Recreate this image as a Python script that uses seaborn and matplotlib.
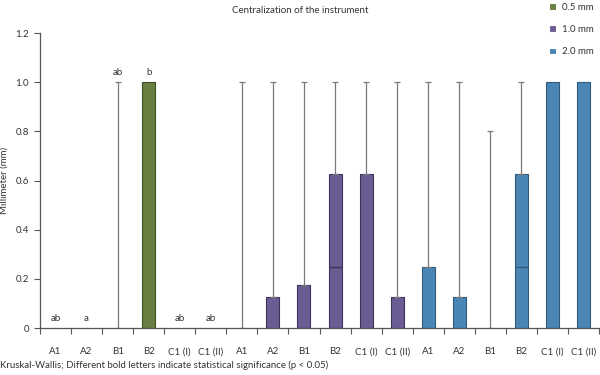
import matplotlib
matplotlib.use("Agg")
import matplotlib.pyplot as plt
import seaborn as sns
import pandas as pd
import numpy as np

# ---- data ----
groups = ["0.5 mm"] * 6 + ["1.0 mm"] * 6 + ["2.0 mm"] * 6
labels = ["A1", "A2", "B1", "B2", "C1 (I)", "C1 (II)"] * 3
q3 = [0, 0, 0, 1.0, 0, 0,
      0, 0.125, 0.175, 0.625, 0.625, 0.125,
      0.25, 0.125, 0, 0.625, 1.0, 1.0]
maxv = [0, 0, 1.0, 1.0, 0, 0,
        1.0, 1.0, 1.0, 1.0, 1.0, 1.0,
        1.0, 1.0, 0.8, 1.0, 1.0, 1.0]
median = [0, 0, 0, 1.0, 0, 0,
          0, 0, 0, 0.25, 0, 0,
          0, 0, 0, 0.25, 1.0, 1.0]
letters = ["ab", "a", "ab", "b", "ab", "ab"] + [""] * 12
yticks = [0, 0.2, 0.4, 0.6, 0.8, 1.0, 1.2]
yticklabels = ["0", "0.2", "0.4", "0.6", "0.8", "1.0", "1.2"]

palette = {"0.5 mm": "#687f42", "1.0 mm": "#6c5c94", "2.0 mm": "#4a86b5"}
edges = {"0.5 mm": "#3f4f26", "1.0 mm": "#3e3258", "2.0 mm": "#2f5a7c"}

keys = [f"{g}|{l}" for g, l in zip(groups, labels)]
df = pd.DataFrame({"key": keys, "group": groups, "label": labels,
                   "q3": q3, "max": maxv, "median": median})

sns.set_theme(style="white")
plt.rcParams["font.family"] = ["Lato", "DejaVu Sans"]
plt.rcParams["font.size"] = 7

fig = plt.figure(figsize=(6, 3.75), dpi=100)
ax = fig.add_axes([40 / 600, 1 - 328 / 375, 559 / 600, (328 - 33) / 375])

sns.barplot(data=df, x="key", y="q3", hue="group", order=keys,
            palette=palette, dodge=False, width=0.42, ax=ax,
            linewidth=0.8, saturation=1, errorbar=None)

# edge colors
for patch in ax.patches:
    fc = patch.get_facecolor()
    for g, c in palette.items():
        if np.allclose(fc[:3], matplotlib.colors.to_rgb(c), atol=0.02):
            patch.set_edgecolor(edges[g])
    if patch.get_height() == 0:
        patch.set_linewidth(0)

# whiskers, medians, letters
for i, row in df.iterrows():
    if row["max"] > row["q3"]:
        ax.errorbar(i, row["q3"], yerr=[[0], [row["max"] - row["q3"]]],
                    fmt="none", ecolor="#7a7a7a", elinewidth=0.9,
                    capsize=2.2, capthick=0.9, zorder=1)
    if 0 < row["median"] < row["q3"]:
        ax.hlines(row["median"], i - 0.21, i + 0.21, color=edges[row["group"]],
                  linewidth=1.0, zorder=3)
    if letters[i]:
        ax.text(i, row["max"] + 0.022, letters[i], ha="center", va="bottom",
                fontsize=7, color="#333333")

ax.set_xlim(-0.5, len(keys) - 0.5)
ax.set_ylim(0, 1.2)
ax.set_yticks(yticks)
ax.set_yticklabels(yticklabels)
ax.set_xticks(np.arange(len(keys) + 1) - 0.5)
ax.set_xticklabels([])
ax.set_xticks(np.arange(len(keys)), minor=True)
ax.set_xticklabels(labels, minor=True)
ax.tick_params(axis="x", which="major", direction="out", length=4, width=0.8,
               color="#555555", bottom=True)
ax.tick_params(axis="x", which="minor", length=0, pad=14, labelsize=7,
               labelcolor="#333333", bottom=True)
ax.tick_params(axis="y", direction="out", length=4, width=0.8, color="#555555",
               left=True, labelsize=7, labelcolor="#333333", pad=4)
ax.set_xlabel("")
ax.set_ylabel("Millimeter (mm)", fontsize=7, color="#333333")
ax.yaxis.set_label_coords(-0.057, 0.5)
sns.despine(ax=ax)
for s in ["left", "bottom"]:
    ax.spines[s].set_color("#555555")
    ax.spines[s].set_linewidth(0.9)

fig.text(0.5, 0.971, "Centralization of the instrument", ha="center",
         va="center", fontsize=7, color="#333333")
fig.text(0.0, 0.025, "Kruskal-Wallis; Different bold letters indicate statistical significance (p < 0.05)",
         ha="left", va="center", fontsize=6.9, color="#333333")

sns.move_legend(ax, loc="upper left", bbox_to_anchor=(540 / 600, 1.015),
                bbox_transform=fig.transFigure, frameon=False, title=None,
                handlelength=0.7, handleheight=0.7, handletextpad=0.7,
                labelspacing=1.35, fontsize=7)
for t in ax.get_legend().get_texts():
    t.set_color("#333333")

fig.savefig("out.png", dpi=100)
